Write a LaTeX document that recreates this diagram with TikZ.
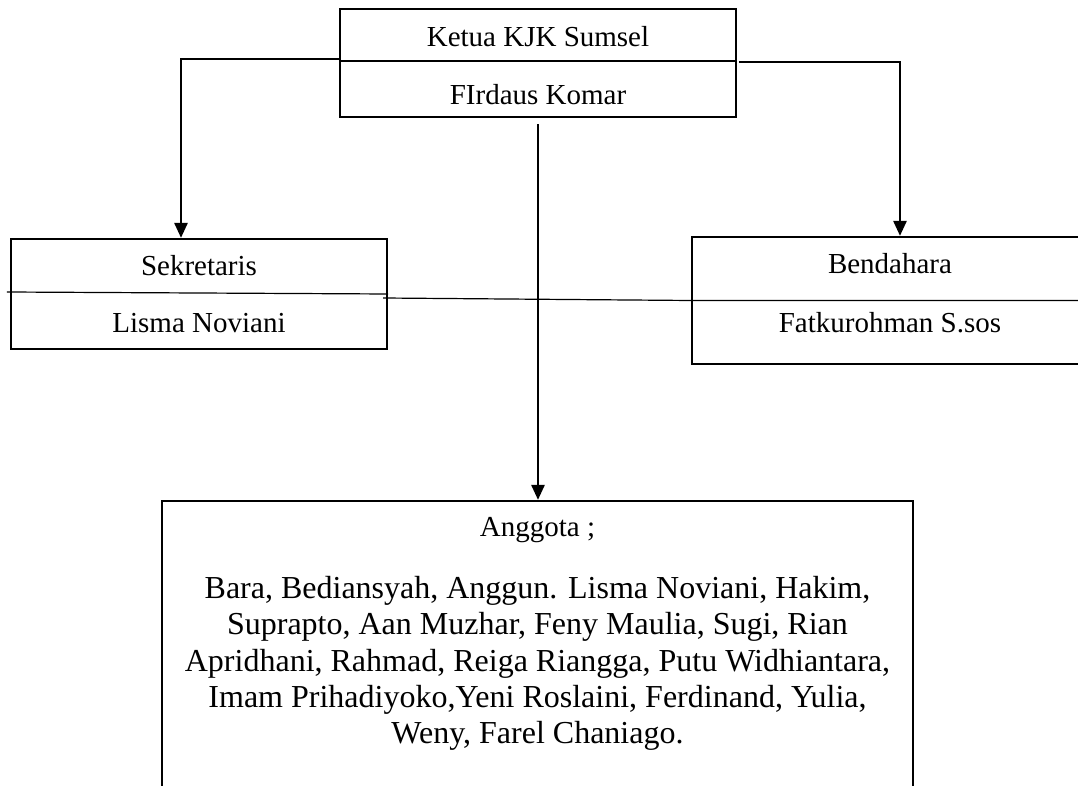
\documentclass[tikz,border=0pt]{standalone}
\usepackage{fontspec}
\setmainfont{Liberation Serif}
\usetikzlibrary{arrows.meta}

\tikzset{
	orgbox/.style={draw,line width=1.1pt,inner sep=0pt},
	orglabel/.style={inner sep=0pt,anchor=base,font=\fontsize{14.5}{17}\selectfont},
	divider/.style={line width=0.6pt},
	link/.style={line width=1.3pt,-{Triangle[length=7.5pt,width=6.5pt]}}
}

\begin{document}
\begin{tikzpicture}[x=0.5pt,y=-0.5pt]
		\useasboundingbox (0,0) rectangle (1078,786);
		\node[orgbox,minimum width=198pt,minimum height=54pt] (ketua) at (538,63) {};
		\node[orgbox,minimum width=188pt,minimum height=55pt] (sekretaris) at (199,294) {};
		\node[orgbox,minimum width=198pt,minimum height=63.5pt] (bendahara) at (890,300.5) {};
		\node[orgbox,minimum width=375.5pt,minimum height=169pt] (anggota) at (537.5,670) {};
		\node[orglabel] (ketuaJabatan) at (538,47) {Ketua KJK Sumsel};
		\node[orglabel] (ketuaNama) at (538,105) {FIrdaus Komar};
		\node[orglabel] (sekJabatan) at (199,276) {Sekretaris};
		\node[orglabel] (sekNama) at (199,333) {Lisma Noviani};
		\node[orglabel] (bendJabatan) at (890,274) {Bendahara};
		\node[orglabel] (bendNama) at (890,333) {Fatkurohman S.sos};
		\node[orglabel] (anggotaJudul) at (537.5,537) {Anggota ;};
		\node[inner sep=0pt,anchor=north,align=center,font=\fontsize{16}{18.15}\selectfont] (anggotaDaftar) at (537.5,576)
			{Bara, Bediansyah, Anggun. Lisma Noviani, Hakim,\\
			Suprapto, Aan Muzhar, Feny Maulia, Sugi, Rian\\
			Apridhani, Rahmad, Reiga Riangga, Putu Widhiantara,\\
			Imam Prihadiyoko,Yeni Roslaini, Ferdinand, Yulia,\\
			Weny, Farel Chaniago.};
		\draw[divider] ([yshift=1pt]ketua.west) -- ([yshift=1pt]ketua.east);
		\draw[divider] ([xshift=-1.5pt,yshift=1pt]sekretaris.west) -- (sekretaris.east);
		\draw[divider] ([xshift=-2.5pt,yshift=-2pt]sekretaris.east) -- (bendahara.west) -- (bendahara.east);
		\draw[link] ([yshift=2pt]ketua.west) -| ([xshift=-9pt]sekretaris.north);
		\draw[link] ([xshift=1pt,yshift=0.5pt]ketua.east) -| ([xshift=5pt]bendahara.north);
		\draw[link] ([yshift=-3pt]ketua.south) -- (ketua.south |- anggota.north);
\end{tikzpicture}
\end{document}
